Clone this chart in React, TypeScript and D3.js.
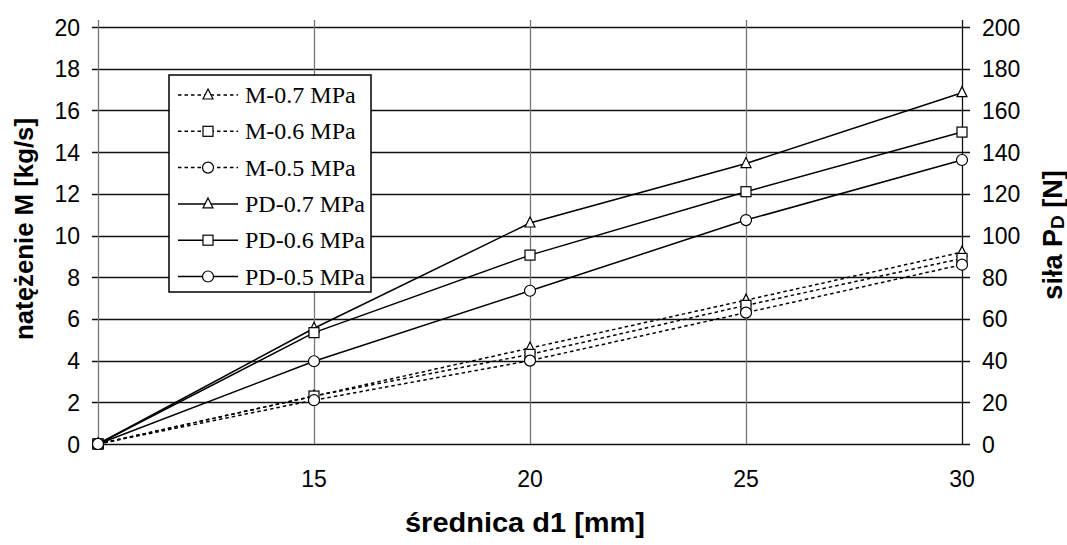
import React from 'react';
import * as d3 from 'd3';

// średnica d1 [mm]
const diameters = [10, 15, 20, 25, 30];
// natężenie M [kg/s] (left axis)
const m07 = [0, 2.3, 4.6, 6.9, 9.2];
const m06 = [0, 2.3, 4.3, 6.65, 8.9];
const m05 = [0, 2.1, 4.0, 6.3, 8.6];
// siła PD [N] (right axis)
const pd07 = [0, 55.5, 106, 134.5, 168.5];
const pd06 = [0, 53.4, 90.6, 121, 149.6];
const pd05 = [0, 39.7, 73.5, 107.4, 136.2];

const xTicks = [15, 20, 25, 30];
const leftTicks = [0, 2, 4, 6, 8, 10, 12, 14, 16, 18, 20];
const rightTicks = [0, 20, 40, 60, 80, 100, 120, 140, 160, 180, 200];

const seriesList = [
  { name: 'M-0.7 MPa', values: m07, axis: 'left', dashed: true, marker: 'triangle' },
  { name: 'M-0.6 MPa', values: m06, axis: 'left', dashed: true, marker: 'square' },
  { name: 'M-0.5 MPa', values: m05, axis: 'left', dashed: true, marker: 'circle' },
  { name: 'PD-0.7 MPa', values: pd07, axis: 'right', dashed: false, marker: 'triangle' },
  { name: 'PD-0.6 MPa', values: pd06, axis: 'right', dashed: false, marker: 'square' },
  { name: 'PD-0.5 MPa', values: pd05, axis: 'right', dashed: false, marker: 'circle' },
];

const W = 1067;
const H = 545;
const plot = { left: 98, right: 962, top: 27, bottom: 444 };

const sans = '"Liberation Sans", Arial, sans-serif';
const serif = '"Liberation Serif", "Times New Roman", serif';

function Marker({ type, x, y }) {
  const s = 5;
  if (type === 'triangle') {
    return <path d={`M${x},${y - s - 1}L${x + s},${y + s - 1}L${x - s},${y + s - 1}Z`} fill="#fff" stroke="#000" strokeWidth={1.2} />;
  }
  if (type === 'square') {
    return <rect x={x - s} y={y - s} width={s * 2} height={s * 2} fill="#fff" stroke="#000" strokeWidth={1.2} />;
  }
  return <circle cx={x} cy={y} r={s + 0.5} fill="#fff" stroke="#000" strokeWidth={1.2} />;
}

export default function App() {
  const x = d3.scaleLinear().domain([10, 30]).range([plot.left, plot.right]);
  const yL = d3.scaleLinear().domain([0, 20]).range([plot.bottom, plot.top]);
  const yR = d3.scaleLinear().domain([0, 200]).range([plot.bottom, plot.top]);

  const lineFor = (s) => {
    const ys = s.axis === 'left' ? yL : yR;
    return d3.line<number>()
      .x((_, i) => x(diameters[i]))
      .y((v) => ys(v))(s.values);
  };

  const legend = { x: 169, y: 75, w: 202, h: 217, row: 36.3 };

  return (
    <svg width={W} height={H} style={{ position: 'absolute', left: 0, top: 0, background: '#fff' }}>
      <rect width={W} height={H} fill="#fff" />

      {/* horizontal grid */}
      {leftTicks.map((t) => (
        <line key={'h' + t} x1={plot.left - 6} x2={plot.right + 8} y1={Math.round(yL(t)) + 0.5} y2={Math.round(yL(t)) + 0.5}
          stroke="#111" strokeWidth={1.3} />
      ))}
      {/* vertical grid */}
      {[10, ...xTicks].map((t) => (
        <line key={'v' + t} x1={Math.round(x(t)) + 0.5} x2={Math.round(x(t)) + 0.5} y1={plot.top - 7} y2={plot.bottom}
          stroke={t === 30 ? '#111' : '#777'} strokeWidth={1.3} />
      ))}

      {/* left tick labels */}
      {leftTicks.map((t) => (
        <text key={'l' + t} x={80} y={yL(t) + 8.5} textAnchor="end" fontFamily={sans} fontSize={23} fill="#000">{t}</text>
      ))}
      {/* right tick labels */}
      {rightTicks.map((t) => (
        <text key={'r' + t} x={982} y={yR(t) + 8.5} textAnchor="start" fontFamily={sans} fontSize={23} fill="#000">{t}</text>
      ))}
      {/* x tick labels */}
      {xTicks.map((t) => (
        <text key={'x' + t} x={x(t)} y={487} textAnchor="middle" fontFamily={sans} fontSize={23} fill="#000">{t}</text>
      ))}

      {/* series lines */}
      {seriesList.map((s) => (
        <path key={'p' + s.name} d={lineFor(s)} fill="none" stroke="#000" strokeWidth={1.5}
          strokeDasharray={s.dashed ? '3.5,3' : undefined} />
      ))}
      {/* markers */}
      {seriesList.map((s) => {
        const ys = s.axis === 'left' ? yL : yR;
        return s.values.map((v, i) => (
          <Marker key={s.name + i} type={s.marker} x={x(diameters[i])} y={ys(v)} />
        ));
      })}

      {/* legend */}
      <rect x={legend.x} y={legend.y} width={legend.w} height={legend.h} fill="#fff" stroke="#000" strokeWidth={1.5} />
      {seriesList.map((s, i) => {
        const cy = legend.y + 20 + i * legend.row;
        return (
          <g key={'lg' + s.name}>
            <line x1={178} x2={238} y1={cy} y2={cy} stroke="#000" strokeWidth={1.5}
              strokeDasharray={s.dashed ? '3.5,3' : undefined} />
            <Marker type={s.marker} x={208} y={cy} />
            <text x={245} y={cy + 8} fontFamily={serif} fontSize={24} fill="#000">{s.name}</text>
          </g>
        );
      })}

      {/* axis titles */}
      <text x={525} y={532} textAnchor="middle" fontFamily={sans} fontWeight="bold" fontSize={28}
        textLength={240} lengthAdjust="spacingAndGlyphs" fill="#000">średnica d1 [mm]</text>
      <text transform="translate(33,229) rotate(-90)" textAnchor="middle" fontFamily={sans} fontWeight="bold" fontSize={26}
        textLength={222} lengthAdjust="spacingAndGlyphs" fill="#000">
        natężenie M [kg/s]
      </text>
      <text transform="translate(1062,235) rotate(-90)" textAnchor="middle" fontFamily={sans} fontWeight="bold" fontSize={27} fill="#000">
        siła P<tspan fontSize={19} dy={2}>D</tspan><tspan dy={-2}> [N]</tspan>
      </text>
    </svg>
  );
}
